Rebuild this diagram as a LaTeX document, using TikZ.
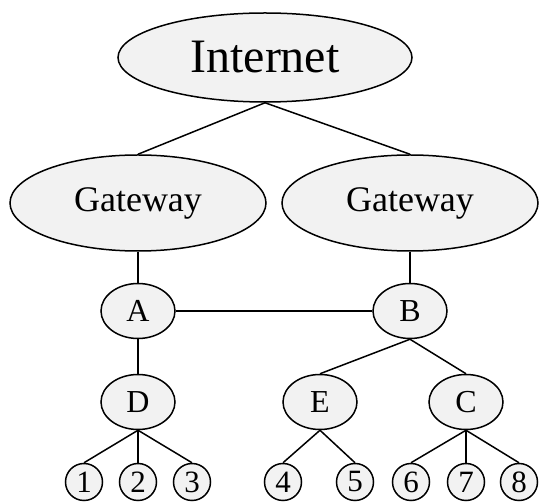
\documentclass[tikz,border=0pt]{standalone}
\usepackage{fontspec}
\setmainfont{Liberation Serif}
\usetikzlibrary{shapes.geometric}
\begin{document}
\begin{tikzpicture}[x=1pt,y=1pt,line width=1.5pt,
  oval/.style={ellipse,draw,fill=gray!10,inner sep=0pt},
  leaf/.style={circle,draw,fill=gray!10,inner sep=0pt,minimum size=37pt,font=\fontsize{31}{32}\selectfont}]
\useasboundingbox(0,0)rectangle(539,-502);
\node[oval,minimum width=294pt,minimum height=89pt,font=\fontsize{48}{50}\selectfont](inet)at(265,-57.5){Internet};
\node[oval,minimum width=256pt,minimum height=96pt,font=\fontsize{36}{38}\selectfont](gwl)at(138,-203){Gateway};
\node[oval,minimum width=256pt,minimum height=96pt,font=\fontsize{36}{38}\selectfont](gwr)at(410,-203){Gateway};
\tikzset{host/.style={oval,minimum width=74pt,minimum height=55pt,font=\fontsize{32}{33}\selectfont}}
\node[host](A)at(138,-311){A};
\node[host](B)at(410,-311){B};
\node[host](D)at(138,-402){D};
\node[host](E)at(320,-402){E};
\node[host](C)at(466,-402){C};
\foreach \n/\x in {1/84,2/138,3/192,4/283,5/355,6/411,7/466,8/519}
  \node[leaf](l\n)at(\x,-482){\n};
\draw(inet.south)--(gwl.north);
\draw(inet.south)--(gwr.north);
\draw(gwl.south)--(A.north);
\draw(gwr.south)--(B.north);
\draw(A.east)--(B.west);
\draw(A.south)--(D.north);
\draw(B.south)--(E.north);
\draw(B.south)--(C.north);
\foreach \n in {1,2,3}\draw(D.south)--(l\n.north);
\foreach \n in {4,5}\draw(E.south)--(l\n.north);
\foreach \n in {6,7,8}\draw(C.south)--(l\n.north);
\end{tikzpicture}
\end{document}
